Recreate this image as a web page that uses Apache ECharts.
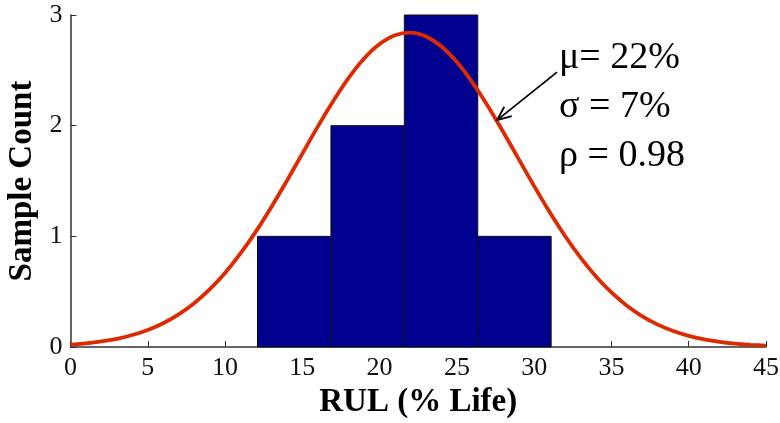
<!DOCTYPE html>
<html>
<head>
<meta charset="utf-8">
<script src="https://cdn.jsdelivr.net/npm/echarts@6/dist/echarts.min.js"></script>
<style>
  html, body { margin: 0; padding: 0; background: #fff; }
  #chart { width: 780px; height: 423px; }
</style>
</head>
<body>
<div id="chart"></div>
<script>
// Histogram of remaining useful life samples
const binEdges = [12.1, 16.85, 21.6, 26.35, 31.1];
const binCounts = [1, 2, 3, 1];

// Fitted normal curve (RUL % life, sample count)
const fitX = [0, 1, 2, 3, 4, 5, 6, 7, 8, 9, 10, 11, 12, 13, 14, 15, 16, 17, 18, 19, 20, 21, 22,
              23, 24, 25, 26, 27, 28, 29, 30, 31, 32, 33, 34, 35, 36, 37, 38, 39, 40, 41, 42, 43, 44, 45];
const fitY = [0.021, 0.033, 0.050, 0.074, 0.108, 0.154, 0.215, 0.295, 0.395, 0.520, 0.669,
              0.845, 1.045, 1.266, 1.502, 1.747, 1.991, 2.223, 2.432, 2.607, 2.737, 2.817, 2.840,
              2.805, 2.715, 2.575, 2.392, 2.178, 1.943, 1.698, 1.454, 1.220, 1.003, 0.808, 0.638,
              0.493, 0.373, 0.277, 0.202, 0.144, 0.100, 0.069, 0.046, 0.030, 0.020, 0.012];

// Fit statistics shown beside the curve
const statLines = ['\u03bc= 22%', '\u03c3 = 7%', '\u03c1 = 0.98'];
// Point on the curve the arrow points at
const arrowTarget = [27.6, 2.05];

const serif = '"Liberation Serif", "Times New Roman", serif';
const axisColor = '#333';

const bins = binCounts.map((c, i) => [binEdges[i], binEdges[i + 1], c]);
const curve = fitX.map((x, i) => [x, fitY[i]]);

const statFontSize = 38;
const statTitles = statLines.map((t, i) => ({
  text: t,
  left: 559,
  top: 58 + i * 49 - statFontSize / 2,
  padding: 0,
  textStyle: { fontFamily: serif, fontWeight: 'normal', fontSize: statFontSize, color: '#000', lineHeight: statFontSize }
}));

const chart = echarts.init(document.getElementById('chart'), null, { renderer: 'canvas' });

chart.setOption({
  animation: false,
  backgroundColor: '#fff',
  title: statTitles,
  grid: { left: 70.5, right: 14, top: 15, bottom: 76, containLabel: false, outerBoundsMode: 'none' },
  xAxis: {
    type: 'value', min: 0, max: 45, interval: 5,
    name: 'RUL (% Life)', nameLocation: 'middle', nameGap: 39,
    nameTextStyle: { fontFamily: serif, fontWeight: 'bold', fontSize: 33, color: '#000' },
    axisLine: { show: true, lineStyle: { color: axisColor, width: 1.5 } },
    axisTick: { show: true, inside: true, length: 6, lineStyle: { color: axisColor } },
    axisLabel: { fontFamily: serif, fontSize: 26, color: '#111', margin: 8 },
    splitLine: { show: false }
  },
  yAxis: {
    type: 'value', min: 0, max: 3, interval: 1,
    name: 'Sample Count', nameLocation: 'middle', nameGap: 30,
    nameTextStyle: { fontFamily: serif, fontWeight: 'bold', fontSize: 33, color: '#000' },
    axisLine: { show: true, lineStyle: { color: axisColor, width: 1.5 } },
    axisTick: { show: true, inside: true, length: 6, lineStyle: { color: axisColor } },
    axisLabel: { fontFamily: serif, fontSize: 26, color: '#111', margin: 8 },
    splitLine: { show: false }
  },
  series: [
    {
      type: 'custom',
      data: bins,
      encode: { x: [0, 1], y: 2 },
      z: 2,
      renderItem: function (params, api) {
        const topLeft = api.coord([api.value(0), api.value(2)]);
        const bottomRight = api.coord([api.value(1), 0]);
        return {
          type: 'rect',
          shape: {
            x: topLeft[0], y: topLeft[1],
            width: bottomRight[0] - topLeft[0],
            height: bottomRight[1] - topLeft[1]
          },
          style: { fill: '#00008f', stroke: '#111', lineWidth: 1 }
        };
      }
    },
    {
      type: 'line',
      data: curve,
      smooth: 0.3,
      symbol: 'none',
      z: 3,
      lineStyle: { color: '#dd2a00', width: 3.8 }
    }
  ]
});

// Arrow from the statistics text to the fitted curve
function drawArrow() {
  const tip = chart.convertToPixel({ gridIndex: 0 }, arrowTarget);
  const start = [tip[0] + 60, tip[1] - 48];
  const dx = tip[0] - start[0], dy = tip[1] - start[1];
  const len = Math.sqrt(dx * dx + dy * dy);
  const ux = dx / len, uy = dy / len;
  const headLen = 14, headW = 6;
  const bx = tip[0] - ux * headLen, by = tip[1] - uy * headLen;
  const px = -uy, py = ux;

  chart.setOption({
    graphic: [
      {
        type: 'line',
        shape: { x1: start[0], y1: start[1], x2: tip[0], y2: tip[1] },
        style: { stroke: '#000', lineWidth: 1.8 },
        z: 10
      },
      {
        type: 'polyline',
        shape: { points: [[bx + px * headW, by + py * headW], tip, [bx - px * headW, by - py * headW]] },
        style: { stroke: '#000', lineWidth: 1.8, fill: null },
        z: 10
      }
    ]
  });
}
drawArrow();
</script>
</body>
</html>
